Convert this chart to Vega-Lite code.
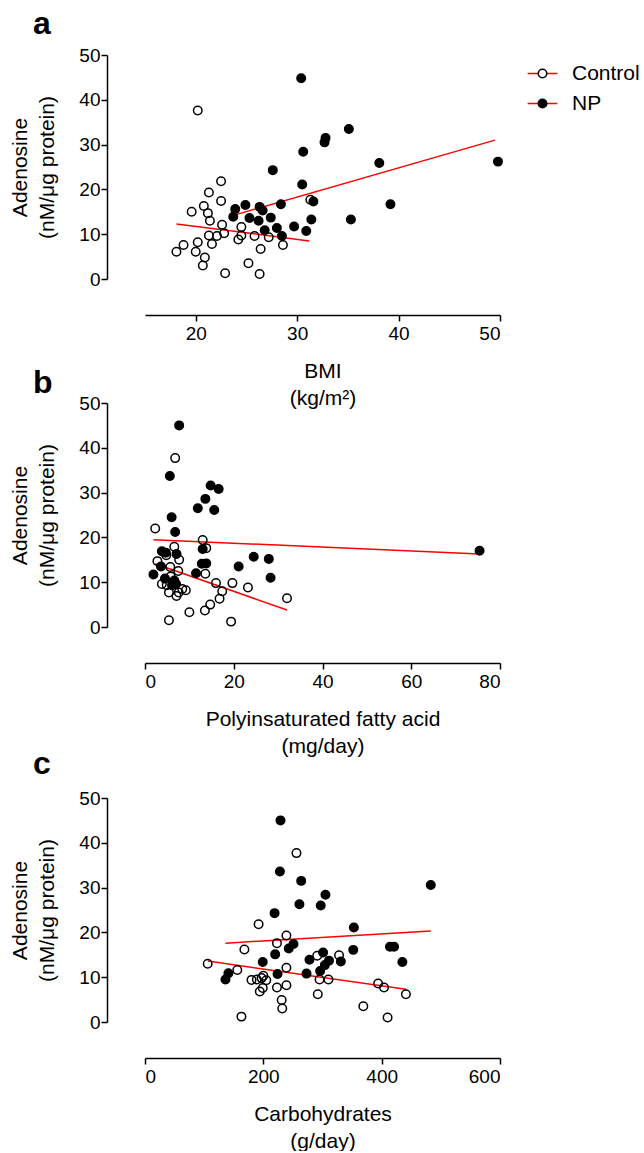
{
  "$schema": "https://vega.github.io/schema/vega-lite/v6.json",
  "background": "white",
  "padding": {"top": 8, "left": 9, "right": 0, "bottom": 0},
  "datasets": {
    "a_pts": [
      {"x": 20.2, "y": 37.6, "group": "Control"}, {"x": 22.5, "y": 21.8, "group": "Control"}, {"x": 21.3, "y": 19.3, "group": "Control"},
      {"x": 22.5, "y": 17.4, "group": "Control"}, {"x": 20.8, "y": 16.3, "group": "Control"}, {"x": 19.6, "y": 15.0, "group": "Control"},
      {"x": 21.2, "y": 14.7, "group": "Control"}, {"x": 21.4, "y": 13.0, "group": "Control"}, {"x": 22.6, "y": 12.1, "group": "Control"},
      {"x": 24.5, "y": 11.6, "group": "Control"}, {"x": 22.8, "y": 10.2, "group": "Control"}, {"x": 21.3, "y": 9.7, "group": "Control"},
      {"x": 22.1, "y": 9.6, "group": "Control"}, {"x": 20.2, "y": 8.2, "group": "Control"}, {"x": 21.6, "y": 7.8, "group": "Control"},
      {"x": 18.8, "y": 7.6, "group": "Control"}, {"x": 18.1, "y": 6.1, "group": "Control"}, {"x": 20.0, "y": 6.1, "group": "Control"},
      {"x": 20.9, "y": 4.8, "group": "Control"}, {"x": 20.7, "y": 3.0, "group": "Control"}, {"x": 22.9, "y": 1.3, "group": "Control"},
      {"x": 25.2, "y": 3.5, "group": "Control"}, {"x": 26.3, "y": 1.1, "group": "Control"}, {"x": 26.4, "y": 6.7, "group": "Control"},
      {"x": 24.2, "y": 8.8, "group": "Control"}, {"x": 24.5, "y": 9.7, "group": "Control"}, {"x": 25.8, "y": 9.6, "group": "Control"},
      {"x": 27.2, "y": 9.3, "group": "Control"}, {"x": 28.6, "y": 7.6, "group": "Control"}, {"x": 31.3, "y": 17.7, "group": "Control"},
      {"x": 30.4, "y": 44.8, "group": "NP"}, {"x": 35.1, "y": 33.5, "group": "NP"}, {"x": 32.8, "y": 31.5, "group": "NP"},
      {"x": 32.7, "y": 30.5, "group": "NP"}, {"x": 30.6, "y": 28.4, "group": "NP"}, {"x": 27.6, "y": 24.3, "group": "NP"},
      {"x": 38.1, "y": 25.9, "group": "NP"}, {"x": 49.8, "y": 26.2, "group": "NP"}, {"x": 30.5, "y": 21.1, "group": "NP"},
      {"x": 28.4, "y": 16.7, "group": "NP"}, {"x": 31.6, "y": 17.3, "group": "NP"}, {"x": 39.2, "y": 16.7, "group": "NP"},
      {"x": 24.9, "y": 16.5, "group": "NP"}, {"x": 26.3, "y": 16.1, "group": "NP"}, {"x": 23.9, "y": 15.6, "group": "NP"},
      {"x": 26.6, "y": 15.3, "group": "NP"}, {"x": 23.7, "y": 13.9, "group": "NP"}, {"x": 25.3, "y": 13.6, "group": "NP"},
      {"x": 27.4, "y": 13.7, "group": "NP"}, {"x": 26.2, "y": 13.0, "group": "NP"}, {"x": 31.4, "y": 13.3, "group": "NP"},
      {"x": 35.3, "y": 13.3, "group": "NP"}, {"x": 26.8, "y": 10.9, "group": "NP"}, {"x": 28.0, "y": 11.4, "group": "NP"},
      {"x": 29.7, "y": 11.7, "group": "NP"}, {"x": 30.9, "y": 10.7, "group": "NP"}, {"x": 28.5, "y": 9.6, "group": "NP"}
    ],
    "a_fit": [
      {"x": 18.1, "y": 12.3, "fit": "Control"}, {"x": 31.2, "y": 8.5, "fit": "Control"},
      {"x": 23.7, "y": 14.2, "fit": "NP"}, {"x": 49.5, "y": 31.0, "fit": "NP"}
    ],
    "b_pts": [
      {"x": 6.8, "y": 37.7, "group": "Control"}, {"x": 2.3, "y": 22.0, "group": "Control"}, {"x": 13.0, "y": 19.4, "group": "Control"},
      {"x": 13.8, "y": 17.6, "group": "Control"}, {"x": 6.6, "y": 17.9, "group": "Control"}, {"x": 2.8, "y": 14.7, "group": "Control"},
      {"x": 4.8, "y": 16.0, "group": "Control"}, {"x": 7.7, "y": 15.0, "group": "Control"}, {"x": 5.7, "y": 13.4, "group": "Control"},
      {"x": 7.5, "y": 12.5, "group": "Control"}, {"x": 13.6, "y": 11.9, "group": "Control"}, {"x": 16.0, "y": 9.8, "group": "Control"},
      {"x": 19.7, "y": 9.8, "group": "Control"}, {"x": 3.8, "y": 9.6, "group": "Control"}, {"x": 23.2, "y": 8.8, "group": "Control"},
      {"x": 17.4, "y": 8.0, "group": "Control"}, {"x": 9.2, "y": 8.2, "group": "Control"}, {"x": 7.6, "y": 7.7, "group": "Control"},
      {"x": 5.4, "y": 7.7, "group": "Control"}, {"x": 7.1, "y": 6.9, "group": "Control"}, {"x": 16.8, "y": 6.3, "group": "Control"},
      {"x": 32.0, "y": 6.4, "group": "Control"}, {"x": 14.7, "y": 5.0, "group": "Control"}, {"x": 13.5, "y": 3.7, "group": "Control"},
      {"x": 10.0, "y": 3.3, "group": "Control"}, {"x": 5.4, "y": 1.5, "group": "Control"}, {"x": 19.4, "y": 1.2, "group": "Control"},
      {"x": 5.8, "y": 11.3, "group": "Control"}, {"x": 4.9, "y": 9.3, "group": "Control"}, {"x": 8.4, "y": 8.5, "group": "Control"},
      {"x": 7.7, "y": 45.0, "group": "NP"}, {"x": 5.6, "y": 33.7, "group": "NP"}, {"x": 14.8, "y": 31.6, "group": "NP"},
      {"x": 16.6, "y": 30.8, "group": "NP"}, {"x": 13.6, "y": 28.6, "group": "NP"}, {"x": 11.9, "y": 26.5, "group": "NP"},
      {"x": 15.6, "y": 26.1, "group": "NP"}, {"x": 6.0, "y": 24.5, "group": "NP"}, {"x": 6.8, "y": 21.2, "group": "NP"},
      {"x": 13.0, "y": 17.4, "group": "NP"}, {"x": 75.4, "y": 17.0, "group": "NP"}, {"x": 3.8, "y": 16.9, "group": "NP"},
      {"x": 4.7, "y": 16.6, "group": "NP"}, {"x": 7.1, "y": 16.3, "group": "NP"}, {"x": 24.5, "y": 15.7, "group": "NP"},
      {"x": 27.9, "y": 15.2, "group": "NP"}, {"x": 12.8, "y": 14.1, "group": "NP"}, {"x": 13.8, "y": 14.2, "group": "NP"},
      {"x": 3.6, "y": 13.5, "group": "NP"}, {"x": 21.1, "y": 13.5, "group": "NP"}, {"x": 1.9, "y": 11.7, "group": "NP"},
      {"x": 11.5, "y": 12.0, "group": "NP"}, {"x": 4.5, "y": 10.8, "group": "NP"}, {"x": 28.3, "y": 11.0, "group": "NP"},
      {"x": 6.6, "y": 10.4, "group": "NP"}, {"x": 7.0, "y": 9.6, "group": "NP"}, {"x": 6.1, "y": 9.3, "group": "NP"}
    ],
    "b_fit": [
      {"x": 2.3, "y": 14.1, "fit": "Control"}, {"x": 32.0, "y": 3.8, "fit": "Control"},
      {"x": 1.9, "y": 19.5, "fit": "NP"}, {"x": 75.4, "y": 16.3, "fit": "NP"}
    ],
    "c_pts": [
      {"x": 256, "y": 37.7, "group": "Control"}, {"x": 192, "y": 21.8, "group": "Control"}, {"x": 239, "y": 19.3, "group": "Control"},
      {"x": 223, "y": 17.6, "group": "Control"}, {"x": 168, "y": 16.2, "group": "Control"}, {"x": 328, "y": 14.9, "group": "Control"},
      {"x": 291, "y": 14.8, "group": "Control"}, {"x": 106, "y": 13.0, "group": "Control"}, {"x": 156, "y": 11.6, "group": "Control"},
      {"x": 239, "y": 12.1, "group": "Control"}, {"x": 200, "y": 10.3, "group": "Control"}, {"x": 180, "y": 9.4, "group": "Control"},
      {"x": 189, "y": 9.5, "group": "Control"}, {"x": 197, "y": 9.8, "group": "Control"}, {"x": 295, "y": 9.5, "group": "Control"},
      {"x": 310, "y": 9.5, "group": "Control"}, {"x": 394, "y": 8.6, "group": "Control"}, {"x": 404, "y": 7.7, "group": "Control"},
      {"x": 441, "y": 6.2, "group": "Control"}, {"x": 223, "y": 7.7, "group": "Control"}, {"x": 239, "y": 8.2, "group": "Control"},
      {"x": 194, "y": 6.8, "group": "Control"}, {"x": 199, "y": 7.6, "group": "Control"}, {"x": 292, "y": 6.2, "group": "Control"},
      {"x": 231, "y": 4.9, "group": "Control"}, {"x": 232, "y": 3.0, "group": "Control"}, {"x": 369, "y": 3.5, "group": "Control"},
      {"x": 163, "y": 1.2, "group": "Control"}, {"x": 410, "y": 1.0, "group": "Control"}, {"x": 205, "y": 9.3, "group": "Control"},
      {"x": 229, "y": 45.0, "group": "NP"}, {"x": 228, "y": 33.6, "group": "NP"}, {"x": 264, "y": 31.5, "group": "NP"},
      {"x": 483, "y": 30.6, "group": "NP"}, {"x": 305, "y": 28.4, "group": "NP"}, {"x": 261, "y": 26.3, "group": "NP"},
      {"x": 297, "y": 26.0, "group": "NP"}, {"x": 219, "y": 24.3, "group": "NP"}, {"x": 353, "y": 21.1, "group": "NP"},
      {"x": 414, "y": 16.8, "group": "NP"}, {"x": 421, "y": 16.8, "group": "NP"}, {"x": 251, "y": 17.4, "group": "NP"},
      {"x": 243, "y": 16.4, "group": "NP"}, {"x": 352, "y": 16.1, "group": "NP"}, {"x": 301, "y": 15.5, "group": "NP"},
      {"x": 220, "y": 15.1, "group": "NP"}, {"x": 278, "y": 13.9, "group": "NP"}, {"x": 311, "y": 13.7, "group": "NP"},
      {"x": 331, "y": 13.5, "group": "NP"}, {"x": 199, "y": 13.4, "group": "NP"}, {"x": 435, "y": 13.4, "group": "NP"},
      {"x": 304, "y": 12.7, "group": "NP"}, {"x": 296, "y": 11.4, "group": "NP"}, {"x": 273, "y": 10.8, "group": "NP"},
      {"x": 224, "y": 10.7, "group": "NP"}, {"x": 141, "y": 10.9, "group": "NP"}, {"x": 136, "y": 9.5, "group": "NP"}
    ],
    "c_fit": [
      {"x": 106, "y": 13.6, "fit": "Control"}, {"x": 441, "y": 7.3, "fit": "Control"},
      {"x": 136, "y": 17.6, "fit": "NP"}, {"x": 483, "y": 20.3, "fit": "NP"}
    ]
  },
  "resolve": {"scale": {"fill": "independent", "stroke": "independent"}},
  "bounds": "flush",
  "spacing": 124,
  "vconcat": [
    {
      "width": 355,
      "height": 224,
      "title": {"text": "a", "anchor": "start", "frame": "group", "dx": -112, "offset": -20, "baseline": "alphabetic", "fontSize": 32, "fontWeight": "bold", "font": "Liberation Sans", "color": "black"},
      "layer": [
        {
          "data": {"name": "a_fit"},
          "mark": {"type": "line", "strokeWidth": 1.5},
          "encoding": {
            "x": {"field": "x", "type": "quantitative", "scale": {"domain": [15, 50], "nice": false}, "axis": {"values": [20, 30, 40, 50], "title": ["BMI", "(kg/m²)"]}},
            "y": {"field": "y", "type": "quantitative", "scale": {"domain": [0, 50], "nice": false}, "axis": {"values": [0, 10, 20, 30, 40, 50], "title": ["Adenosine", "(nM/μg protein)"]}},
            "stroke": {"field": "fit", "type": "nominal", "scale": {"range": ["#ff0000", "#ff0000"]},
              "legend": {"orient": "none", "legendX": 387, "legendY": 8, "title": null, "symbolType": "M-3.5,0H-1M1,0H3.5", "symbolSize": 72, "symbolStrokeWidth": 1.5, "symbolFillColor": "transparent", "labelFontSize": 21, "labelFont": "Liberation Sans", "labelColor": "black", "labelOffset": 19, "rowPadding": 8, "padding": 0, "zindex": 0}}
          }
        },
        {
          "data": {"name": "a_pts"},
          "mark": {"type": "point", "shape": "circle", "size": 72, "strokeWidth": 1.5, "stroke": "black", "filled": true, "opacity": 1},
          "encoding": {
            "x": {"field": "x", "type": "quantitative"},
            "y": {"field": "y", "type": "quantitative"},
            "fill": {"field": "group", "type": "nominal", "scale": {"domain": ["Control", "NP"], "range": ["transparent", "black"]},
              "legend": {"orient": "none", "legendX": 387, "legendY": 8, "title": null, "symbolType": "circle", "symbolSize": 72, "symbolStrokeColor": "black", "symbolStrokeWidth": 1.5, "labelFontSize": 21, "labelFont": "Liberation Sans", "labelOpacity": 0, "labelOffset": 19, "rowPadding": 8, "padding": 0, "zindex": 1}}
          }
        }
      ]
    },
    {
      "resolve": {"scale": {"fill": "independent", "stroke": "independent"}},
      "spacing": -8,
      "vconcat": [
        {
          "width": 355,
          "height": 224,
          "title": {"text": "b", "anchor": "start", "frame": "group", "dx": -112, "offset": -31, "baseline": "alphabetic", "fontSize": 32, "fontWeight": "bold", "font": "Liberation Sans", "color": "black"},
          "layer": [
            {
              "data": {"name": "b_fit"},
              "mark": {"type": "line", "strokeWidth": 1.5},
              "encoding": {
                "x": {"field": "x", "type": "quantitative", "scale": {"domain": [0, 80], "nice": false}, "axis": {"values": [0, 20, 40, 60, 80], "title": ["Polyinsaturated fatty acid", "(mg/day)"]}},
                "y": {"field": "y", "type": "quantitative", "scale": {"domain": [0, 50], "nice": false}, "axis": {"values": [0, 10, 20, 30, 40, 50], "title": ["Adenosine", "(nM/μg protein)"]}},
                "stroke": {"field": "fit", "type": "nominal", "scale": {"domain": ["Control", "NP"], "range": ["#ff0000", "#ff0000"]}, "legend": null}
              }
            },
            {
              "data": {"name": "b_pts"},
              "mark": {"type": "point", "shape": "circle", "size": 72, "strokeWidth": 1.5, "stroke": "black", "filled": true, "opacity": 1},
              "encoding": {
                "x": {"field": "x", "type": "quantitative"},
                "y": {"field": "y", "type": "quantitative"},
                "fill": {"field": "group", "type": "nominal", "scale": {"domain": ["Control", "NP"], "range": ["transparent", "black"]}, "legend": null}
              }
            }
          ]
        },
        {
          "width": 355,
          "height": 224,
          "title": {"text": "c", "anchor": "start", "frame": "group", "dx": -112, "offset": -17, "baseline": "alphabetic", "fontSize": 32, "fontWeight": "bold", "font": "Liberation Sans", "color": "black"},
          "layer": [
            {
              "data": {"name": "c_fit"},
              "mark": {"type": "line", "strokeWidth": 1.5},
              "encoding": {
                "x": {"field": "x", "type": "quantitative", "scale": {"domain": [0, 600], "nice": false}, "axis": {"values": [0, 200, 400, 600], "title": ["Carbohydrates", "(g/day)"]}},
                "y": {"field": "y", "type": "quantitative", "scale": {"domain": [0, 50], "nice": false}, "axis": {"values": [0, 10, 20, 30, 40, 50], "title": ["Adenosine", "(nM/μg protein)"]}},
                "stroke": {"field": "fit", "type": "nominal", "scale": {"domain": ["Control", "NP"], "range": ["#ff0000", "#ff0000"]}, "legend": null}
              }
            },
            {
              "data": {"name": "c_pts"},
              "mark": {"type": "point", "shape": "circle", "size": 72, "strokeWidth": 1.5, "stroke": "black", "filled": true, "opacity": 1},
              "encoding": {
                "x": {"field": "x", "type": "quantitative"},
                "y": {"field": "y", "type": "quantitative"},
                "fill": {"field": "group", "type": "nominal", "scale": {"domain": ["Control", "NP"], "range": ["transparent", "black"]}, "legend": null}
              }
            }
          ]
        }
      ]
    }
  ],
  "config": {
    "font": "Liberation Sans",
    "view": {"stroke": null},
    "axis": {"grid": false, "domainColor": "black", "domainWidth": 1.5, "tickColor": "black", "tickWidth": 1.5, "tickSize": 6, "labelFontSize": 19, "labelColor": "black", "labelFont": "Liberation Sans", "titleFont": "Liberation Sans", "titleFontSize": 21, "titleFontWeight": "normal", "titleColor": "black", "titleLineHeight": 27},
    "axisX": {"offset": 36, "labelPadding": 3, "titlePadding": 17},
    "axisY": {"offset": 38, "labelPadding": 1, "titlePadding": 21}
  }
}
